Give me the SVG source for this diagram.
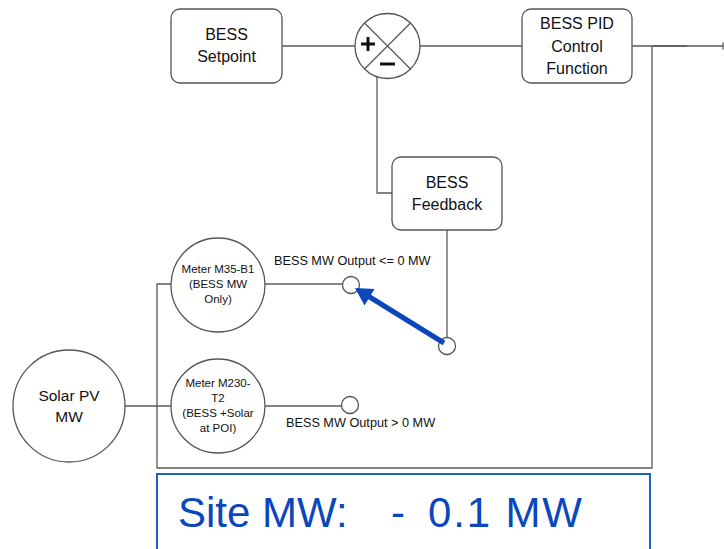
<svg xmlns="http://www.w3.org/2000/svg" width="724" height="549" viewBox="0 0 724 549">
  <style>
    .box { fill: #ffffff; stroke: #555555; stroke-width: 1.3; }
    .wire { fill: none; stroke: #5a5a5a; stroke-width: 1.3; }
    .lbl { font-family: "Liberation Sans", Arial, sans-serif; fill: #111111; text-anchor: middle; }
    .big { font-size: 16px; }
    .sm { font-size: 11.5px; }
    .out { font-family: "Liberation Sans", Arial, sans-serif; font-size: 12.7px; fill: #111111; }
    .sign { stroke: #111111; stroke-width: 3; stroke-linecap: butt; }
    .lever { stroke: #0a47bd; stroke-width: 5; fill: none; }
  </style>

  <rect width="724" height="549" fill="#ffffff"/>

  <!-- connectors -->
  <g id="connectors">
    <line class="wire" x1="282" y1="46" x2="355" y2="46"/>
    <line class="wire" x1="420" y1="46" x2="522" y2="46"/>
    <line class="wire" x1="632" y1="46" x2="687" y2="46"/>
    <line class="wire" x1="652" y1="46" x2="723" y2="46"/>
    <line class="wire" x1="723" y1="42.5" x2="723" y2="49.5"/>
    <polyline class="wire" points="377,77 377,193 392,193"/>
    <line class="wire" x1="447" y1="230" x2="447" y2="337"/>
    <polyline class="wire" points="652,46 652,468 157,468 157,284 171,284"/>
    <line class="wire" x1="265" y1="284" x2="343" y2="284"/>
    <line class="wire" x1="125" y1="406" x2="171" y2="406"/>
    <line class="wire" x1="265" y1="406" x2="342" y2="406"/>
    <!-- switch contacts -->
    <circle class="box" cx="351" cy="285" r="8.5"/>
    <circle class="box" cx="447" cy="346" r="8.5"/>
    <circle class="box" cx="350" cy="405" r="8.5"/>
    <!-- switch lever with arrowhead -->
    <line class="lever" x1="444" y1="343" x2="368" y2="296"/>
    <polygon points="355,288 374.5,289 364.5,305.5" fill="#0a47bd"/>
    <text class="out" x="274" y="265">BESS MW Output &lt;= 0 MW</text>
    <text class="out" x="286" y="427">BESS MW Output &gt; 0 MW</text>
  </g>

  <g id="setpoint">
    <rect class="box" x="171" y="9" width="111" height="74" rx="9"/>
    <text class="lbl big" x="226.5" y="40">BESS</text>
    <text class="lbl big" x="226.5" y="62">Setpoint</text>
  </g>

  <g id="summing-junction">
    <circle class="box" cx="387.5" cy="46" r="32.5"/>
    <line class="wire" x1="364.5" y1="23" x2="410.5" y2="69"/>
    <line class="wire" x1="410.5" y1="23" x2="364.5" y2="69"/>
    <line class="sign" x1="361" y1="44" x2="375" y2="44"/>
    <line class="sign" x1="368" y1="37" x2="368" y2="51"/>
    <line class="sign" x1="380" y1="64" x2="395" y2="64"/>
  </g>

  <g id="pid">
    <rect class="box" x="522" y="9" width="110" height="74" rx="9"/>
    <text class="lbl big" x="577" y="29">BESS PID</text>
    <text class="lbl big" x="577" y="52">Control</text>
    <text class="lbl big" x="577" y="74">Function</text>
  </g>

  <g id="feedback">
    <rect class="box" x="392" y="157" width="110" height="73" rx="9"/>
    <text class="lbl big" x="447" y="188">BESS</text>
    <text class="lbl big" x="447" y="210">Feedback</text>
  </g>

  <g id="meter-m35">
    <circle class="box" cx="218" cy="285" r="47"/>
    <text class="lbl sm" x="218" y="273">Meter M35-B1</text>
    <text class="lbl sm" x="218" y="288">(BESS MW</text>
    <text class="lbl sm" x="218" y="303">Only)</text>
  </g>

  <g id="meter-m230">
    <circle class="box" cx="218" cy="406" r="47"/>
    <text class="lbl sm" x="218" y="387">Meter M230-</text>
    <text class="lbl sm" x="218" y="402">T2</text>
    <text class="lbl sm" x="218" y="417">(BESS +Solar</text>
    <text class="lbl sm" x="218" y="432">at POI)</text>
  </g>

  <g id="solar">
    <circle class="box" cx="69" cy="406" r="56"/>
    <text class="lbl" font-size="15.5" x="69" y="401">Solar PV</text>
    <text class="lbl" font-size="15.5" x="69" y="422">MW</text>
  </g>

  <g id="site-mw">
    <rect x="157" y="474" width="493" height="90" fill="#ffffff" stroke="#1f5cc4" stroke-width="2"/>
    <text font-family="Liberation Sans, Arial, sans-serif" font-size="42" fill="#0a47bd" y="527">
      <tspan x="178">Site MW:</tspan><tspan x="391">-</tspan><tspan x="428" textLength="154">0.1 MW</tspan>
    </text>
  </g>
</svg>
